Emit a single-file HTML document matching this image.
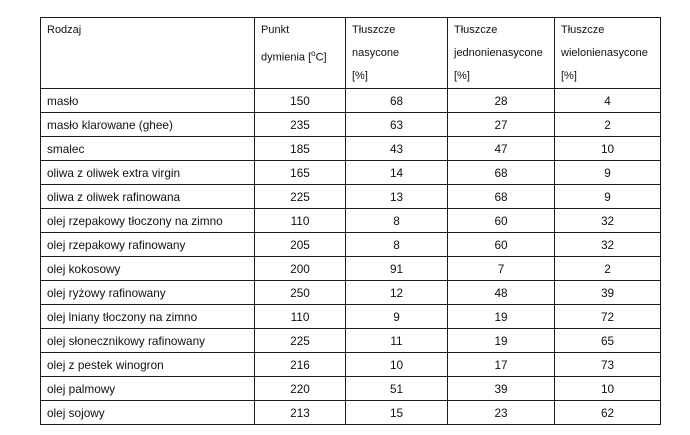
<!DOCTYPE html>
<html><head><meta charset="utf-8"><style>
body{margin:0;background:#fff;width:690px;height:435px;overflow:hidden;font-family:"Liberation Sans",sans-serif;font-size:11.8px;color:#111}
table{position:absolute;left:40px;top:17px;border-collapse:collapse;table-layout:fixed;width:620px}
td{border:1.5px solid #1a1a1a;padding:0 0 0 6px;height:23px;white-space:nowrap}
td.n{text-align:center;padding:0}
tr.h td{height:69px;vertical-align:top;line-height:23px;padding-top:1px;font-size:11px}
</style></head><body>
<table>
<colgroup><col style="width:214px"><col style="width:91px"><col style="width:102px"><col style="width:107px"><col style="width:106px"></colgroup>
<tr class="h"><td>Rodzaj</td><td>Punkt<br>dymienia [<sup style="font-size:8px">o</sup>C]</td><td>Tłuszcze<br>nasycone<br>[%]</td><td>Tłuszcze<br>jednonienasycone<br>[%]</td><td>Tłuszcze<br>wielonienasycone<br>[%]</td></tr>
<tr><td>masło</td><td class="n">150</td><td class="n">68</td><td class="n">28</td><td class="n">4</td></tr>
<tr><td>masło klarowane (ghee)</td><td class="n">235</td><td class="n">63</td><td class="n">27</td><td class="n">2</td></tr>
<tr><td>smalec</td><td class="n">185</td><td class="n">43</td><td class="n">47</td><td class="n">10</td></tr>
<tr><td>oliwa z oliwek extra virgin</td><td class="n">165</td><td class="n">14</td><td class="n">68</td><td class="n">9</td></tr>
<tr><td>oliwa z oliwek rafinowana</td><td class="n">225</td><td class="n">13</td><td class="n">68</td><td class="n">9</td></tr>
<tr><td>olej rzepakowy tłoczony na zimno</td><td class="n">110</td><td class="n">8</td><td class="n">60</td><td class="n">32</td></tr>
<tr><td>olej rzepakowy rafinowany</td><td class="n">205</td><td class="n">8</td><td class="n">60</td><td class="n">32</td></tr>
<tr><td>olej kokosowy</td><td class="n">200</td><td class="n">91</td><td class="n">7</td><td class="n">2</td></tr>
<tr><td>olej ryżowy rafinowany</td><td class="n">250</td><td class="n">12</td><td class="n">48</td><td class="n">39</td></tr>
<tr><td>olej lniany tłoczony na zimno</td><td class="n">110</td><td class="n">9</td><td class="n">19</td><td class="n">72</td></tr>
<tr><td>olej słonecznikowy rafinowany</td><td class="n">225</td><td class="n">11</td><td class="n">19</td><td class="n">65</td></tr>
<tr><td>olej z pestek winogron</td><td class="n">216</td><td class="n">10</td><td class="n">17</td><td class="n">73</td></tr>
<tr><td>olej palmowy</td><td class="n">220</td><td class="n">51</td><td class="n">39</td><td class="n">10</td></tr>
<tr><td>olej sojowy</td><td class="n">213</td><td class="n">15</td><td class="n">23</td><td class="n">62</td></tr>
</table>
</body></html>
